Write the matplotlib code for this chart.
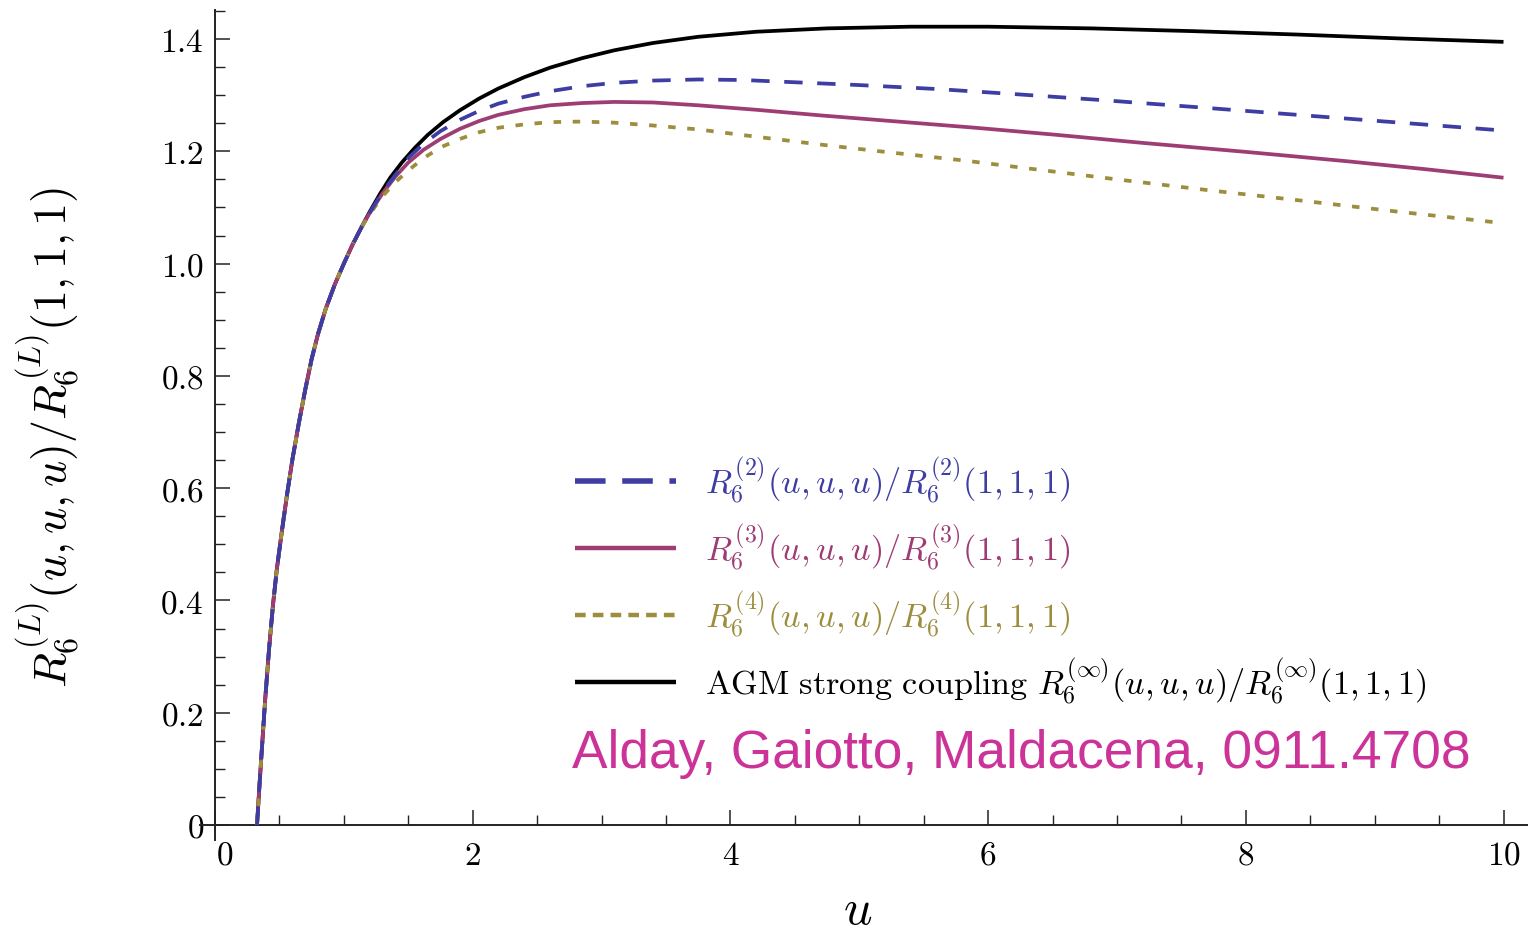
import matplotlib
matplotlib.use("Agg")
import matplotlib.pyplot as plt
import matplotlib.transforms as mtransforms
from matplotlib.lines import Line2D
from matplotlib.ticker import MultipleLocator, FixedLocator

plt.rcParams['mathtext.fontset'] = 'cm'

# ---- data ----
u_common = [0.326, 0.345, 0.365, 0.39, 0.42, 0.45, 0.48, 0.52, 0.56, 0.6, 0.65, 0.7,
            0.75, 0.8, 0.86, 0.93, 1.0, 1.07, 1.14]
y_common = [0.0, 0.07, 0.14, 0.225, 0.315, 0.392, 0.456, 0.525, 0.59, 0.65, 0.715, 0.775,
            0.83, 0.875, 0.92, 0.963, 1.0, 1.035, 1.066]

u_agm = [1.2, 1.28, 1.36, 1.45, 1.55, 1.65, 1.77, 1.9, 2.05, 2.2, 2.4, 2.6, 2.85, 3.1,
         3.4, 3.75, 4.2, 4.75, 5.4, 6.0, 6.8, 7.6, 8.4, 9.2, 10.0]
y_agm = [1.092, 1.124, 1.153, 1.18, 1.206, 1.229, 1.252, 1.273, 1.294, 1.312, 1.332, 1.349,
         1.366, 1.38, 1.393, 1.404, 1.413, 1.419, 1.422, 1.422, 1.419, 1.414, 1.408, 1.401, 1.395]

u_l2 = [1.2, 1.3, 1.4, 1.5, 1.62, 1.75, 1.9, 2.05, 2.2, 2.4, 2.6, 2.85, 3.1, 3.4, 3.75,
        4.1, 4.5, 5.0, 5.6, 6.2, 6.9, 7.6, 8.4, 9.2, 10.0]
y_l2 = [1.09, 1.128, 1.158, 1.188, 1.214, 1.236, 1.256, 1.272, 1.285, 1.297, 1.307, 1.316,
        1.322, 1.326, 1.328, 1.327, 1.323, 1.318, 1.311, 1.302, 1.291, 1.279, 1.265, 1.251, 1.237]

u_l3 = [1.2, 1.3, 1.4, 1.5, 1.62, 1.75, 1.9, 2.05, 2.2, 2.4, 2.6, 2.85, 3.1, 3.4, 3.75,
        4.2, 4.7, 5.3, 5.9, 6.5, 7.2, 8.0, 8.8, 9.4, 10.0]
y_l3 = [1.09, 1.125, 1.155, 1.18, 1.203, 1.222, 1.24, 1.254, 1.265, 1.275, 1.282, 1.286,
        1.288, 1.287, 1.282, 1.274, 1.264, 1.253, 1.242, 1.23, 1.215, 1.199, 1.182, 1.168, 1.153]

u_l4 = [1.2, 1.3, 1.4, 1.5, 1.62, 1.75, 1.9, 2.05, 2.2, 2.4, 2.6, 2.85, 3.1, 3.4, 3.75,
        4.2, 4.7, 5.2, 5.8, 6.4, 7.0, 7.7, 8.4, 9.2, 10.0]
y_l4 = [1.088, 1.12, 1.145, 1.166, 1.188, 1.207, 1.222, 1.234, 1.242, 1.248, 1.252, 1.253,
        1.251, 1.246, 1.239, 1.226, 1.212, 1.199, 1.184, 1.167, 1.15, 1.131, 1.113, 1.092, 1.072]

labels = [r'$R_6^{(2)}(u,u,u)/R_6^{(2)}(1,1,1)$',
          r'$R_6^{(3)}(u,u,u)/R_6^{(3)}(1,1,1)$',
          r'$R_6^{(4)}(u,u,u)/R_6^{(4)}(1,1,1)$',
          r'$\mathrm{AGM\ strong\ coupling}\ R_6^{(\infty)}(u,u,u)/R_6^{(\infty)}(1,1,1)$']
xticks = [0, 2, 4, 6, 8, 10]
yticks = [0, 0.2, 0.4, 0.6, 0.8, 1.0, 1.2, 1.4]
ytick_labels = ['0', '0.2', '0.4', '0.6', '0.8', '1.0', '1.2', '1.4']

c_blue = '#3d3da3'
c_mag = '#9e3d74'
c_olive = '#9c8e3d'
c_black = '#000000'

W, H = 1529, 934
fig = plt.figure(figsize=(W / 100, H / 100), dpi=100)
ax = fig.add_axes([200 / W, 94 / H, 1327 / W, 830 / H])
ax.set_xlim(-15 / 128.85, 1312 / 128.85)
ax.set_ylim(-15 / 561.4, 815 / 561.4)

lw = 2.7
def series(u, y):
    return u_common + u, y_common + y

ux, yx = series(u_agm, y_agm)
ax.plot(ux, yx, color=c_black, lw=lw, solid_capstyle='butt', solid_joinstyle='round', zorder=3)
ux, yx = series(u_l3, y_l3)
ax.plot(ux, yx, color=c_mag, lw=lw, solid_capstyle='butt', solid_joinstyle='round', zorder=4)
ux, yx = series(u_l4, y_l4)
ax.plot(ux, yx, color=c_olive, lw=lw, dashes=(2.0, 3.1), dash_capstyle='butt', zorder=5)
ux, yx = series(u_l2, y_l2)
ax.plot(ux, yx, color=c_blue, lw=lw, dashes=(4.9, 3.9), dash_capstyle='butt', zorder=6)

# axes styling (Mathematica-like crossing axes)
for s in ['top', 'right']:
    ax.spines[s].set_visible(False)
ax.spines['left'].set_position(('data', 0))
ax.spines['bottom'].set_position(('data', 0))
for s in ['left', 'bottom']:
    ax.spines[s].set_linewidth(1.4)
    ax.spines[s].set_color('#222222')

ax.xaxis.set_major_locator(FixedLocator(xticks))
ax.xaxis.set_minor_locator(MultipleLocator(0.5))
ax.yaxis.set_major_locator(FixedLocator(yticks))
ax.yaxis.set_minor_locator(MultipleLocator(0.05))
ax.set_xticklabels([f'${t}$' for t in xticks])
ax.set_yticklabels([f'${t}$' for t in ytick_labels])
ax.tick_params(which='major', direction='in', length=11, width=1.1, color='#222222',
               labelsize=24, pad=8)
ax.tick_params(which='minor', direction='in', length=7, width=1.0, color='#222222')
ax.tick_params(axis='x', which='major', pad=10)

# shift the "0" label on the x axis to the right of the crossing point
lbl0 = ax.get_xticklabels()[0]
lbl0.set_transform(lbl0.get_transform() +
                   mtransforms.ScaledTranslation(10 / 100, 0, fig.dpi_scale_trans))

ax.set_xlabel(r'$u$', fontsize=36, va='center')
ax.xaxis.set_label_coords((858 - 200) / 1327, -(910 - 840) / 830)
ax.set_ylabel(r'$R_6^{(L)}(u,u,u)/R_6^{(L)}(1,1,1)$', fontsize=33, va='center')
ax.yaxis.set_label_coords((48 - 200) / 1327, (934 - 94 - 437) / 830)

handles = [Line2D([], [], color=c_blue, lw=4, dashes=(5.5, 3.0), dash_capstyle='butt'),
           Line2D([], [], color=c_mag, lw=3.2, solid_capstyle='butt'),
           Line2D([], [], color=c_olive, lw=3.2, dashes=(2.4, 1.6), dash_capstyle='butt'),
           Line2D([], [], color=c_black, lw=3.2, solid_capstyle='butt')]
leg = ax.legend(handles, labels, loc='upper left', frameon=False,
                bbox_to_anchor=(575 / W, 1 - 455 / H), bbox_transform=fig.transFigure,
                fontsize=24.6, handlelength=2.95, handletextpad=0.85, labelspacing=0.5,
                borderpad=0, borderaxespad=0, labelcolor='linecolor')

fig.text(572 / W, 1 - 768 / H, 'Alday, Gaiotto, Maldacena, 0911.4708',
         fontsize=38.3, color='#cc3399', family='Liberation Sans', ha='left', va='baseline')

fig.savefig('out.png', dpi=100)
